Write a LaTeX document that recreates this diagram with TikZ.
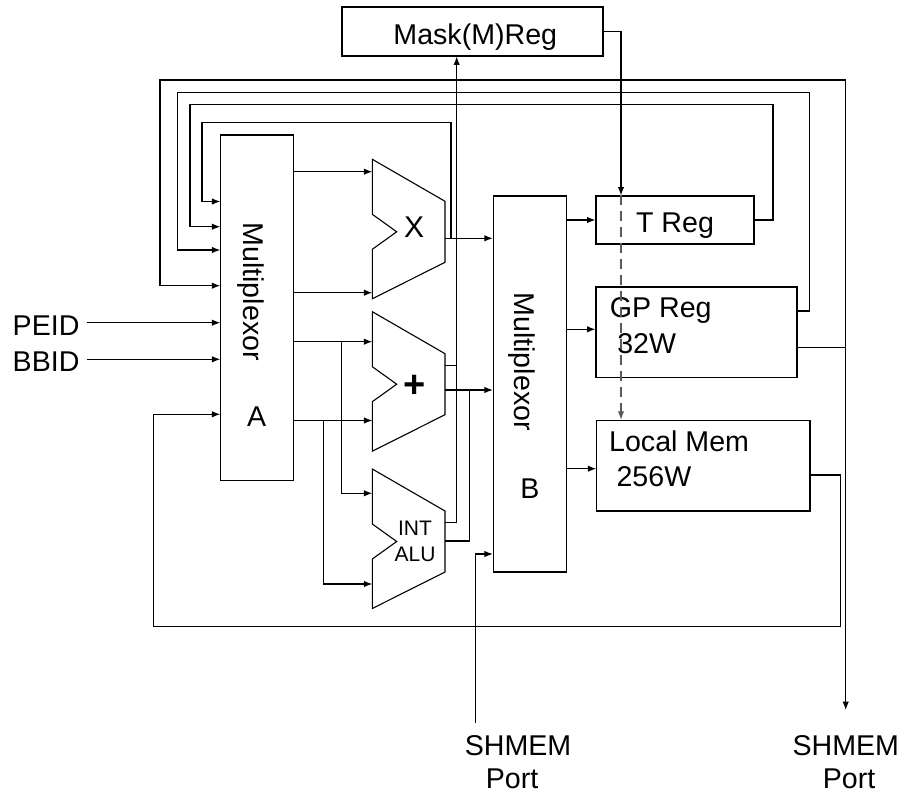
\documentclass[tikz,border=0pt]{standalone}
\usepackage{fontspec}
\setmainfont{Liberation Sans}
\usetikzlibrary{calc,arrows.meta}

\tikzset{
  blk/.style={draw, rectangle, inner sep=0pt},
  lbl/.style={font=\fontsize{14.3}{16}\selectfont, inner sep=0pt},
  small/.style={font=\fontsize{10.5}{12}\selectfont, inner sep=0pt},
  sig/.style={-{Latex[length=4.2pt,width=3.2pt]}},
  mline/.style={dash pattern=on 5pt off 3pt, draw=black!65},
}
\newcommand{\aluAt}[2]{% top left corner of an ALU
  \draw (#1,#2) -- ++(72.7,42) -- ++(0,61) -- ++(-72.7,36.5) -- ++(0,-49.5)
     -- ++(24.4,-17.5) -- ++(-24.4,-17.5) -- cycle;
}

\begin{document}
\begin{tikzpicture}[x=0.5pt, y=-0.5pt, line width=0.55pt]
  \useasboundingbox (0,0) rectangle (899,791);

  %% boxes
  \node[blk, minimum width=130.5pt, minimum height=24.5pt] (mask) at (472.5,31.5) {};
  \node[blk, minimum width=36.5pt, minimum height=172.75pt] (muxA) at (256.8,307.75) {};
  \node[blk, minimum width=36.5pt, minimum height=188pt] (muxB) at (529.85,384) {};
  \node[blk, minimum width=79pt, minimum height=24pt] (treg) at (675,220) {};
  \node[blk, minimum width=100.5pt, minimum height=45.35pt] (gpreg) at (696.5,332.35) {};
  \node[blk, minimum width=106.6pt, minimum height=45.35pt] (lmem) at (703.4,465.65) {};

  %% texts
  \node[lbl, anchor=base] (masktxt) at (475.3,44.3) {Mask(M)Reg};
  \node[lbl, anchor=base] (tregtxt) at (675,232.3) {T Reg};
  \node[lbl, anchor=base west] (gptxt) at (609.3,317.3) {GP Reg};
  \node[lbl, anchor=base west] (gpsize) at (616.7,353.3) {32W};
  \node[lbl, anchor=base west] (lmtxt) at (608.6,451) {Local Mem};
  \node[lbl, anchor=base west] (lmsize) at (616,486) {256W};
  \node[lbl, rotate=-90] (muxAtxt) at (250.6,291.7) {Multiplexor};
  \node[lbl, anchor=base] (muxAname) at (256.7,426.7) {A};
  \node[lbl, rotate=-90] (muxBtxt) at (522.3,361.7) {Multiplexor};
  \node[lbl, anchor=base] (muxBname) at (530,498.3) {B};

  %% ALUs
  \aluAt{372.3}{159.3}
  \aluAt{372.3}{311.7}
  \aluAt{372.3}{469}
  \node[lbl, anchor=base, font=\fontsize{15}{16}\selectfont] (mul) at (414.2,238) {X};
  \node[lbl, font=\fontsize{19}{19}\bfseries] (add) at (415,386) {+};
  \node[small, anchor=base] (inttxt) at (415,535) {INT};
  \node[small, anchor=base] (alutxt) at (415,561.7) {ALU};

  \coordinate (xin1) at (372.3,171.7);
  \coordinate (xin2) at (372.3,292.7);
  \coordinate (pin1) at (372.3,341.7);
  \coordinate (pin2) at (372.3,420.5);
  \coordinate (iin1) at (372.3,493.3);
  \coordinate (iin2) at (372.3,584);
  \coordinate (xout) at (445,238.3);
  \coordinate (pout1) at (445,365.7);
  \coordinate (pout2) at (445,390);
  \coordinate (iout1) at (445,522.7);
  \coordinate (iout2) at (445,541);

  %% inputs of multiplexor A
  \foreach \n/\yy in {a1/201.5, a2/226.7, a3/250, a4/285.7, a5/322.7, a6/359.3, a7/414.3}
    \coordinate (\n) at (220.3,\yy);

  \node[lbl, anchor=base east, inner xsep=3.35pt] (peid) at (86.7,335.7) {PEID};
  \node[lbl, anchor=base east, inner xsep=3.35pt] (bbid) at (86.7,371) {BBID};
  \draw[sig] (peid.east |- a5) -- (a5);
  \draw[sig] (bbid.east |- a6) -- (a6);

  %% multiplexor A to ALUs
  \foreach \p in {xin1,xin2,pin1,pin2}
    \draw[sig] (muxA.east |- \p) -- (\p);
  \draw[sig] (pin1 -| 341.7,0) |- (iin1);
  \draw[sig] (pin2 -| 323.3,0) |- (iin2);

  %% ALUs to multiplexor B and mask
  \draw[sig] (xout) -- (xout -| muxB.west);
  \draw[sig] (pout2) -- (pout2 -| muxB.west);
  \draw (pout1) -- (456.7,365.7);
  \draw[sig] (iout1) -- (456.7,522.7) -- (mask.south -| 456.7,0);
  \draw (iout2) -- (469.3,541) -- (469.3,390);

  %% feedback to multiplexor A
  \draw[sig] (xout -| 451,0) |- (202,122.7) |- (a1);
  \draw[sig] (treg.east) -- (773,220) |- (190,104.7) |- (a2);
  \draw[sig] (gpreg.east |- 0,311) -- (809.3,311) |- (177.7,92.7) |- (a3);
  \draw[sig] (gpreg.east |- 0,347.7) -- (845.7,347.7) |- (160,80) |- (a4);
  \draw[sig] (lmem.east |- 0,475) -- (840.4,475) |- (153.6,626.7) |- (a7);

  %% multiplexor B to registers
  \draw[sig] (muxB.east |- treg.west) -- (treg.west);
  \draw[sig] (muxB.east |- 0,329.3) -- (gpreg.west |- 0,329.3);
  \draw[sig] (muxB.east |- 0,468.7) -- (lmem.west |- 0,468.7);

  %% mask
  \draw[sig] (mask.east) -| (treg.north -| 621,0);
  \draw[sig, mline] (treg.north -| 621,0) -- (lmem.north -| 621,0);

  %% shared memory ports
  \coordinate (portL) at (475.5,723);
  \coordinate (portR) at (845.7,710);
  \draw[sig] (portL) |- (muxB.west |- 0,554);
  \draw[sig] (845.7,347.7) -- (portR);
  \node[lbl, anchor=base] (shmL) at (518,755) {SHMEM};
  \node[lbl, anchor=base] (portLtxt) at (512,788) {Port};
  \node[lbl, anchor=base] (shmR) at (845.8,755) {SHMEM};
  \node[lbl, anchor=base] (portRtxt) at (849,788) {Port};
\end{tikzpicture}
\end{document}
